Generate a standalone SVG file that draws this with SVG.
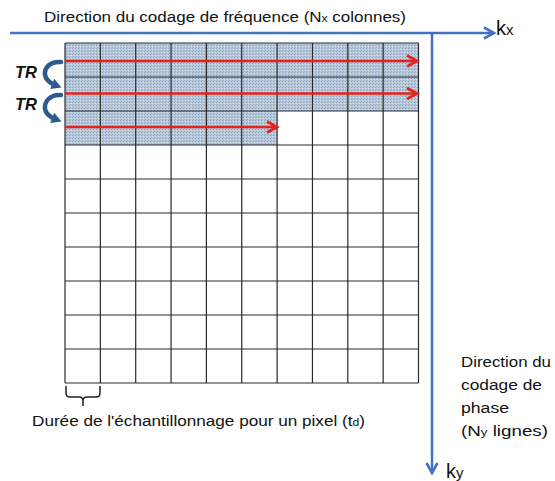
<svg xmlns="http://www.w3.org/2000/svg" width="555" height="481" viewBox="0 0 555 481">
  <style>
    .t { font-family: "Liberation Sans", Arial, sans-serif; font-size: 15.5px; fill: #111; }
    .tr { font-family: "Liberation Sans", Arial, sans-serif; font-size: 17px; font-weight: bold; font-style: italic; fill: #111; }
    .k { font-family: "Liberation Sans", Arial, sans-serif; font-size: 20px; fill: #111; }
    .grid { fill: none; stroke: #2a2a2a; stroke-width: 1.2; }
    .red { stroke: #e5231d; stroke-width: 2.6; fill: none; marker-end: url(#ra); }
    .axis { stroke: #4472c4; stroke-width: 2.5; fill: none; marker-end: url(#ba); }
    .cb { stroke: #2e5a8e; stroke-width: 4.5; fill: none; stroke-linecap: round; marker-end: url(#ca); }
    .brace { stroke: #222; stroke-width: 1.5; fill: none; }
  </style>
  <defs>
    <pattern id="hatch" width="3" height="3" patternUnits="userSpaceOnUse">
      <rect width="3" height="3" fill="#b8c8db"/>
      <rect x="0" y="0" width="1" height="1" fill="#8ba0ba"/>
      <rect x="2" y="1" width="1" height="1" fill="#d8e2ed"/>
      <rect x="1" y="2" width="1" height="1" fill="#98adc5"/>
    </pattern>
    <marker id="ra" markerUnits="userSpaceOnUse" markerWidth="14" markerHeight="14" refX="12" refY="6" orient="auto" overflow="visible">
      <path d="M2,0.5 L12,6 L2,11.5" fill="none" stroke="#e5231d" stroke-width="2.8"/>
    </marker>
    <marker id="ba" markerUnits="userSpaceOnUse" markerWidth="14" markerHeight="14" refX="12" refY="6" orient="auto" overflow="visible">
      <path d="M2,0.5 L12,6 L2,11.5" fill="none" stroke="#4472c4" stroke-width="2.6"/>
    </marker>
    <marker id="ca" markerUnits="userSpaceOnUse" markerWidth="12" markerHeight="12" refX="3" refY="5.5" orient="auto" overflow="visible">
      <path d="M0,0 L10,5.5 L0,11 z" fill="#2e5a8e"/>
    </marker>
  </defs>

  <g id="title">
    <text class="t" x="44" y="22" textLength="362" lengthAdjust="spacingAndGlyphs">Direction du codage de fréquence  (N<tspan font-size="11">x</tspan> colonnes)</text>
  </g>

  <g id="grid">
    <rect x="65" y="43" width="353.5" height="68" fill="url(#hatch)"/>
    <rect x="65" y="111" width="212.1" height="34" fill="url(#hatch)"/>
    <path class="grid" d="M65,43V383 M100.35,43V383 M135.7,43V383 M171.05,43V383 M206.4,43V383 M241.75,43V383 M277.1,43V383 M312.45,43V383 M347.8,43V383 M383.15,43V383 M418.5,43V383 M65,43H418.5 M65,77H418.5 M65,111H418.5 M65,145H418.5 M65,179H418.5 M65,213H418.5 M65,247H418.5 M65,281H418.5 M65,315H418.5 M65,349H418.5 M65,383H418.5"/>
  </g>

  <g id="connectors">
    <line class="axis" x1="10" y1="33" x2="494" y2="33"/>
    <line class="axis" x1="432" y1="33" x2="432" y2="473"/>
    <line class="red" x1="65" y1="61" x2="417" y2="61"/>
    <line class="red" x1="65" y1="93.5" x2="417" y2="93.5"/>
    <line class="red" x1="65" y1="127" x2="277" y2="127"/>
    <path class="cb" d="M61,62 C50,61 44,68 45,75 C46,80 50,83 55,85"/>
    <path class="cb" d="M61,95 C50,94 44,102 45,109 C46,114 50,117 55,119"/>
  </g>

  <g id="tr-labels">
    <text class="tr" x="15" y="78" textLength="22" lengthAdjust="spacingAndGlyphs">TR</text>
    <text class="tr" x="15" y="110" textLength="22" lengthAdjust="spacingAndGlyphs">TR</text>
  </g>

  <g id="kx">
    <text class="k" x="496" y="35">k<tspan font-size="15">x</tspan></text>
  </g>
  <g id="ky">
    <text class="k" x="446" y="478">k<tspan font-size="15">y</tspan></text>
  </g>

  <g id="pixel-brace">
    <path class="brace" d="M66,386 V393 Q66,397 70,397 H79 Q83,397 83,401 V406 M83,401 Q83,397 87,397 H96 Q100,397 100,393 V386"/>
    <text class="t" x="32" y="426" textLength="333" lengthAdjust="spacingAndGlyphs">Durée de l'échantillonnage pour un pixel (t<tspan font-size="11">d</tspan>)</text>
  </g>

  <g id="phase-label">
    <text class="t" x="461" y="367" textLength="90" lengthAdjust="spacingAndGlyphs">Direction du</text>
    <text class="t" x="461" y="390" textLength="81" lengthAdjust="spacingAndGlyphs">codage de</text>
    <text class="t" x="461" y="413" textLength="48" lengthAdjust="spacingAndGlyphs">phase</text>
    <text class="t" x="461" y="436" textLength="87" lengthAdjust="spacingAndGlyphs">(N<tspan font-size="11">y</tspan> lignes)</text>
  </g>
</svg>
